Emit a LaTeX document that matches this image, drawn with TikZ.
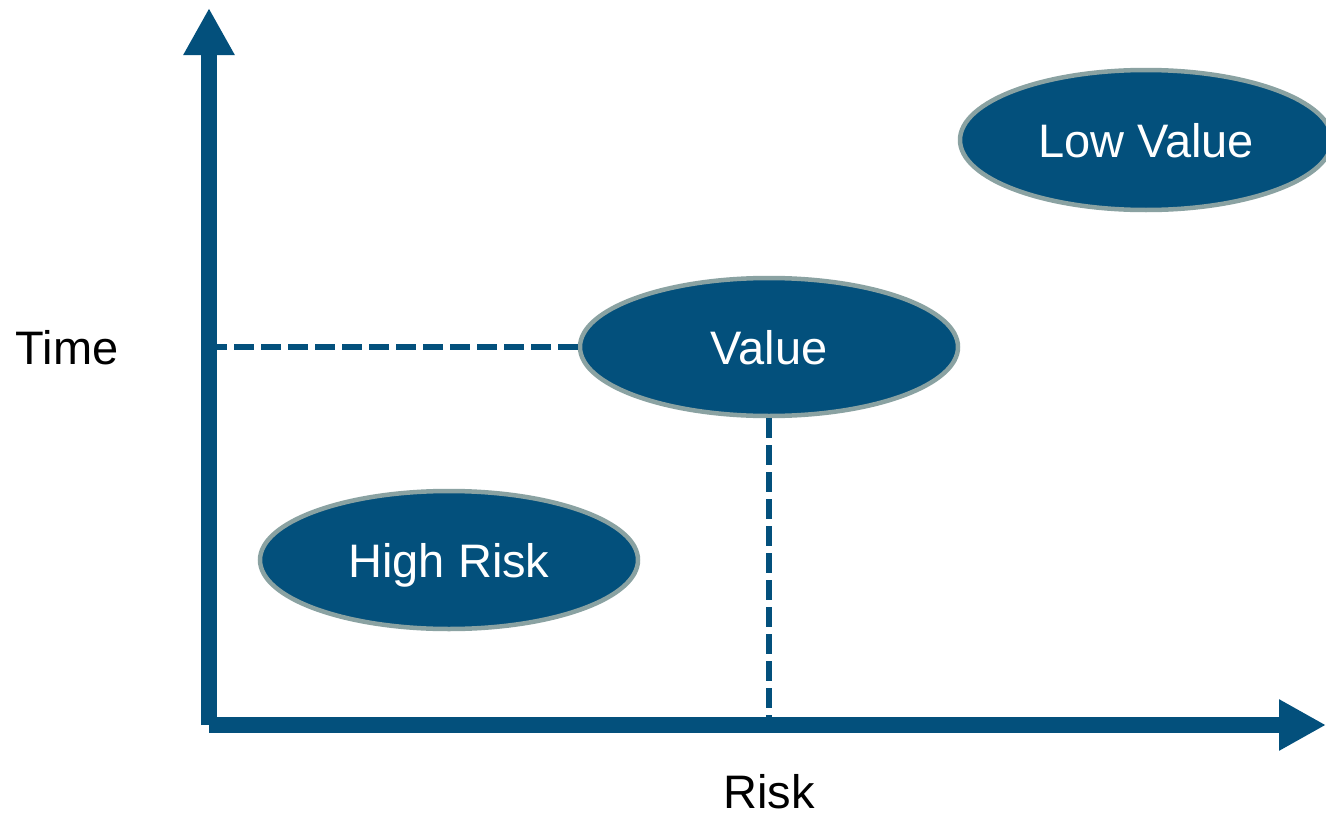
\documentclass[tikz,border=0pt]{standalone}
\usepackage{fontspec}
\setmainfont{Liberation Sans}
\usetikzlibrary{shapes,arrows.meta}
\definecolor{axisblue}{RGB}{3,80,124}
\definecolor{rimgrey}{RGB}{138,162,162}

\begin{document}
\begin{tikzpicture}[x=1pt,y=-1pt,font=\fontsize{47}{56}\selectfont,
                    axis/.style={line width=16pt,draw=axisblue,
                                 -{Triangle[length=47pt,width=48pt]}},
                    guide/.style={line width=6pt,draw=axisblue,
                                  dash pattern=on 20pt off 7pt},
                    blob/.style={ellipse,fill=axisblue,draw=rimgrey,line width=4.5pt,
                                 text=white,inner sep=0pt,text height=34pt,text depth=0pt,
                                 minimum width=378pt,minimum height=138pt}]

  \useasboundingbox (0,0) rectangle (1326,819);

  \coordinate (O) at (209,725);
  \coordinate (T) at (209,8);
  \coordinate (R) at (1326,725);

  \node[blob]                   (V) at (769,347)  {Value};
  \node[blob]                   (H) at (449,560)  {High Risk};
  \node[blob,minimum width=372pt,minimum height=140pt]
                                (L) at (1146,140) {Low Value};

  \node[anchor=base,inner sep=0pt] (t) at (67,364)  {Time};
  \node[anchor=base,inner sep=0pt] (r) at (769,808) {Risk};

  \path (V) edge[guide] (O |- V)
            edge[guide] (V |- O);

  \path (O) edge[axis] (T)
            edge[axis] (R);
\end{tikzpicture}
\end{document}
